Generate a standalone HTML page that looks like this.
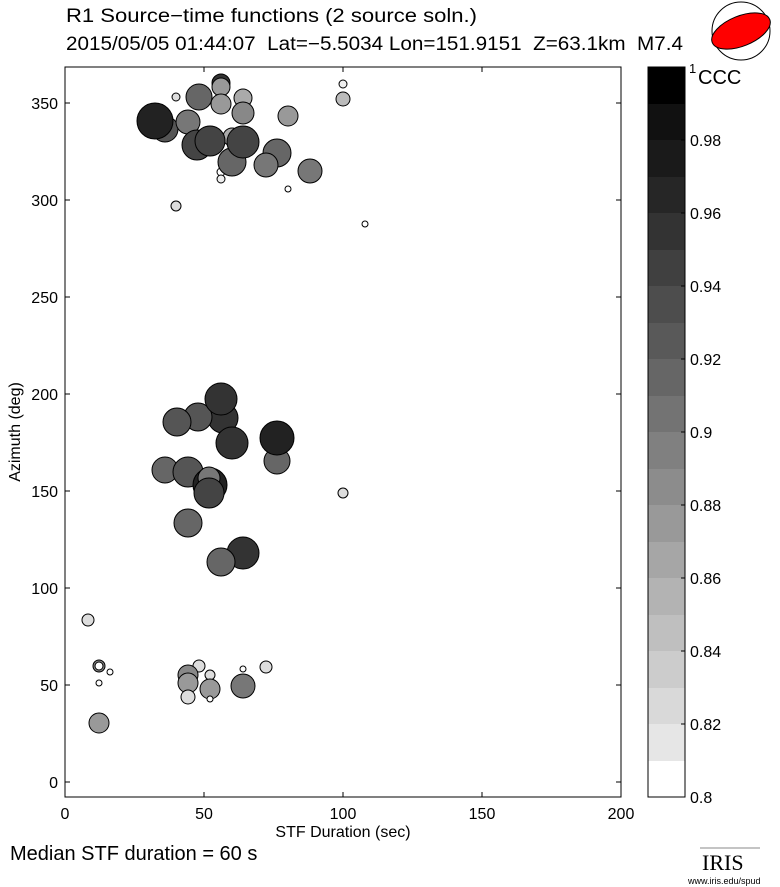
<!DOCTYPE html>
<html><head><style>body{margin:0;background:#fff}svg{display:block;font-family:"Liberation Sans",sans-serif}</style></head><body>
<svg width="780" height="887" viewBox="0 0 780 887">
<text x="66" y="22" font-size="19" textLength="411" lengthAdjust="spacingAndGlyphs">R1 Source−time functions (2 source soln.)</text>
<text x="66" y="50" font-size="19" textLength="617" lengthAdjust="spacingAndGlyphs" style="white-space:pre">2015/05/05 01:44:07  Lat=−5.5034 Lon=151.9151  Z=63.1km  M7.4</text>
<circle cx="741" cy="31" r="29" fill="#fff" stroke="#000"/>
<ellipse cx="741" cy="31" rx="31" ry="15" transform="rotate(-22 741 31)" fill="red" stroke="#000"/>
<rect x="65" y="67" width="556" height="730" fill="none" stroke="#000"/>
<g stroke="#000">
<line x1="65" y1="782" x2="70" y2="782"/><line x1="65" y1="685" x2="70" y2="685"/><line x1="65" y1="588" x2="70" y2="588"/><line x1="65" y1="491" x2="70" y2="491"/><line x1="65" y1="394" x2="70" y2="394"/><line x1="65" y1="297" x2="70" y2="297"/><line x1="65" y1="200" x2="70" y2="200"/><line x1="65" y1="103" x2="70" y2="103"/>
<line x1="616" y1="782" x2="621" y2="782"/><line x1="616" y1="685" x2="621" y2="685"/><line x1="616" y1="588" x2="621" y2="588"/><line x1="616" y1="491" x2="621" y2="491"/><line x1="616" y1="394" x2="621" y2="394"/><line x1="616" y1="297" x2="621" y2="297"/><line x1="616" y1="200" x2="621" y2="200"/><line x1="616" y1="103" x2="621" y2="103"/>
<line x1="204" y1="797" x2="204" y2="792"/><line x1="343" y1="797" x2="343" y2="792"/><line x1="482" y1="797" x2="482" y2="792"/>
<line x1="204" y1="67" x2="204" y2="72"/><line x1="343" y1="67" x2="343" y2="72"/><line x1="482" y1="67" x2="482" y2="72"/>
</g>
<g font-size="16" text-anchor="end">
<text x="58" y="788">0</text><text x="58" y="691">50</text><text x="58" y="594">100</text><text x="58" y="497">150</text><text x="58" y="400">200</text><text x="58" y="303">250</text><text x="58" y="206">300</text><text x="58" y="109">350</text>
</g>
<g font-size="16" text-anchor="middle">
<text x="65" y="819">0</text><text x="204" y="819">50</text><text x="343" y="819">100</text><text x="482" y="819">150</text><text x="621" y="819">200</text>
<text x="343" y="837">STF Duration (sec)</text>
</g>
<text transform="translate(20 432) rotate(-90)" font-size="16" text-anchor="middle">Azimuth (deg)</text>
<text x="10" y="860" font-size="20">Median STF duration = 60 s</text>
<g stroke="#000" stroke-width="1">
<circle cx="165" cy="129" r="13" fill="#555"/>
<circle cx="155" cy="121" r="18" fill="#222"/>
<circle cx="188" cy="122" r="12" fill="#777"/>
<circle cx="199" cy="97" r="13" fill="#666"/>
<circle cx="176" cy="97" r="4" fill="#ddd"/>
<circle cx="221" cy="83" r="9" fill="#333"/>
<circle cx="221" cy="87" r="9" fill="#999"/>
<circle cx="221" cy="104" r="10" fill="#999"/>
<circle cx="243" cy="98" r="9" fill="#aaa"/>
<circle cx="243" cy="113" r="11" fill="#888"/>
<circle cx="288" cy="116" r="10" fill="#999"/>
<circle cx="343" cy="84" r="4" fill="#eee"/>
<circle cx="343" cy="99" r="7" fill="#bbb"/>
<circle cx="221" cy="172" r="4" fill="#fff"/>
<circle cx="232" cy="162" r="14" fill="#666"/>
<circle cx="197" cy="145" r="15" fill="#444"/>
<circle cx="232" cy="137" r="9" fill="#aaa"/>
<circle cx="210" cy="141" r="15" fill="#444"/>
<circle cx="243" cy="142" r="16" fill="#444"/>
<circle cx="277" cy="153" r="14" fill="#666"/>
<circle cx="266" cy="165" r="12" fill="#777"/>
<circle cx="310" cy="171" r="12" fill="#777"/>
<circle cx="221" cy="179" r="4" fill="#eee"/>
<circle cx="288" cy="189" r="3" fill="#fff"/>
<circle cx="176" cy="206" r="5" fill="#ddd"/>
<circle cx="365" cy="224" r="3" fill="#fff"/>
<circle cx="223" cy="418" r="15" fill="#333"/>
<circle cx="198" cy="417" r="14" fill="#555"/>
<circle cx="177" cy="422" r="14" fill="#555"/>
<circle cx="221" cy="399" r="16" fill="#333"/>
<circle cx="232" cy="443" r="16" fill="#333"/>
<circle cx="277" cy="461" r="13" fill="#666"/>
<circle cx="277" cy="438" r="17" fill="#222"/>
<circle cx="165" cy="470" r="13" fill="#666"/>
<circle cx="188" cy="472" r="15" fill="#555"/>
<circle cx="210" cy="485" r="17" fill="#222"/>
<circle cx="209" cy="478" r="11" fill="#777"/>
<circle cx="209" cy="493" r="15" fill="#444"/>
<circle cx="188" cy="523" r="14" fill="#666"/>
<circle cx="243" cy="553" r="16" fill="#333"/>
<circle cx="221" cy="562" r="14" fill="#666"/>
<circle cx="343" cy="493" r="5" fill="#ddd"/>
<circle cx="88" cy="620" r="6" fill="#ddd"/>
<circle cx="99" cy="666" r="6" fill="#888"/>
<circle cx="99" cy="666" r="4" fill="#fff"/>
<circle cx="110" cy="672" r="3" fill="#fff"/>
<circle cx="99" cy="683" r="3" fill="#fff"/>
<circle cx="99" cy="723" r="10" fill="#999"/>
<circle cx="199" cy="666" r="6" fill="#ddd"/>
<circle cx="188" cy="675" r="10" fill="#888"/>
<circle cx="188" cy="683" r="10" fill="#999"/>
<circle cx="188" cy="697" r="7" fill="#ddd"/>
<circle cx="210" cy="675" r="5" fill="#ddd"/>
<circle cx="210" cy="689" r="10" fill="#999"/>
<circle cx="210" cy="699" r="3" fill="#fff"/>
<circle cx="243" cy="669" r="3" fill="#fff"/>
<circle cx="243" cy="686" r="12" fill="#777"/>
<circle cx="266" cy="667" r="6" fill="#ddd"/>
</g>
<g>
<rect x="648" y="67" width="37" height="37" fill="#000"/>
<rect x="648" y="104" width="37" height="37" fill="#111"/>
<rect x="648" y="140" width="37" height="37" fill="#1a1a1a"/>
<rect x="648" y="177" width="37" height="37" fill="#262626"/>
<rect x="648" y="213" width="37" height="37" fill="#333"/>
<rect x="648" y="250" width="37" height="37" fill="#404040"/>
<rect x="648" y="286" width="37" height="37" fill="#4d4d4d"/>
<rect x="648" y="323" width="37" height="37" fill="#595959"/>
<rect x="648" y="359" width="37" height="37" fill="#666"/>
<rect x="648" y="396" width="37" height="37" fill="#737373"/>
<rect x="648" y="432" width="37" height="37" fill="#808080"/>
<rect x="648" y="469" width="37" height="37" fill="#8c8c8c"/>
<rect x="648" y="505" width="37" height="37" fill="#999"/>
<rect x="648" y="542" width="37" height="37" fill="#a6a6a6"/>
<rect x="648" y="578" width="37" height="37" fill="#b3b3b3"/>
<rect x="648" y="615" width="37" height="37" fill="#bfbfbf"/>
<rect x="648" y="651" width="37" height="37" fill="#ccc"/>
<rect x="648" y="688" width="37" height="37" fill="#d9d9d9"/>
<rect x="648" y="724" width="37" height="37" fill="#e6e6e6"/>
<rect x="648" y="761" width="37" height="36" fill="#fff"/>
<rect x="648" y="67" width="37" height="730" fill="none" stroke="#000"/>
</g>
<g stroke="#000"><line x1="681" y1="724" x2="685" y2="724"/><line x1="681" y1="651" x2="685" y2="651"/><line x1="681" y1="578" x2="685" y2="578"/><line x1="681" y1="505" x2="685" y2="505"/><line x1="681" y1="432" x2="685" y2="432"/><line x1="681" y1="359" x2="685" y2="359"/><line x1="681" y1="286" x2="685" y2="286"/><line x1="681" y1="213" x2="685" y2="213"/><line x1="681" y1="140" x2="685" y2="140"/></g>
<g font-size="16">
<text x="690" y="803">0.8</text><text x="690" y="730">0.82</text><text x="690" y="657">0.84</text><text x="690" y="584">0.86</text><text x="690" y="511">0.88</text><text x="690" y="438">0.9</text><text x="690" y="365">0.92</text><text x="690" y="292">0.94</text><text x="690" y="219">0.96</text><text x="690" y="146">0.98</text>
<text x="689" y="73" font-size="13">1</text><text x="698" y="84" font-size="20">CCC</text>
</g>
<text x="702" y="870" font-size="22" font-family="Liberation Serif,serif">IRIS</text>
<line x1="700" y1="848" x2="760" y2="848" stroke="#888"/>
<text x="688" y="884" font-size="9">www.iris.edu/spud</text>
</svg>
</body></html>
